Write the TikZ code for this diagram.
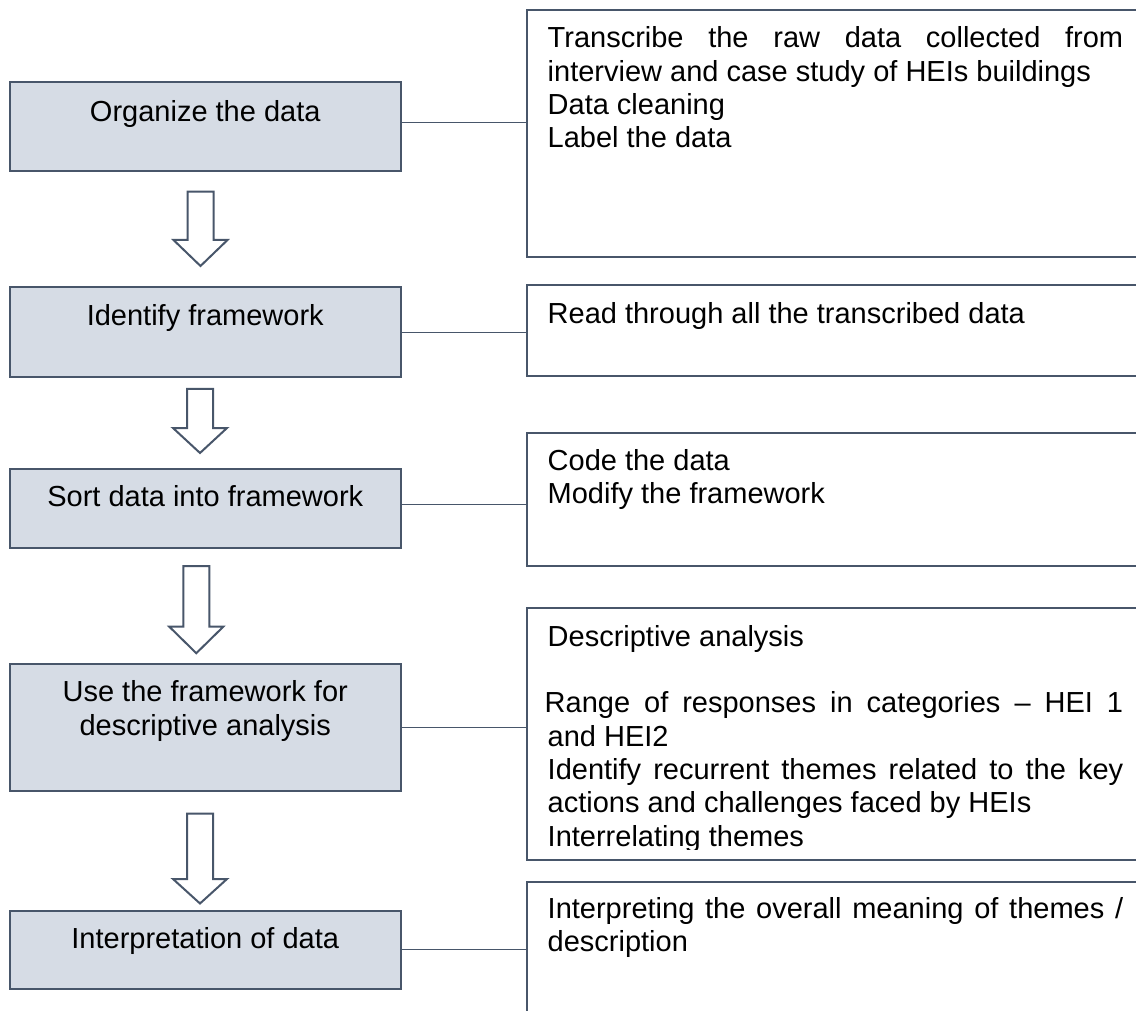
\documentclass[tikz,border=0pt]{standalone}
\usepackage{fontspec}
\setmainfont{Liberation Sans}
\definecolor{edge}{RGB}{72,86,106}
\definecolor{boxfill}{RGB}{214,220,229}
\tolerance=10000
\hyphenpenalty=10000
\exhyphenpenalty=10000
% strut that fixes the first baseline 26pt below the top of a text node
\newcommand\fst{\rule{0pt}{26pt}}
% hollow block arrow: centre x, shaft top, head base, tip
\newcommand\flowarrow[4]{%
  \draw[blockarrow] ({#1-13},#2) -- ({#1+13},#2) -- ({#1+13},#3) -- ({#1+27},#3)
    -- (#1,#4) -- ({#1-27},#3) -- ({#1-13},#3) -- cycle;}
\begin{document}
\begin{tikzpicture}[x=1pt,y=-1pt,
  stagebox/.style={draw=edge, line width=2pt, fill=boxfill, outer sep=0pt,
    inner sep=0pt, minimum width=390.5pt},
  notebox/.style={draw=edge, line width=2pt, fill=white, outer sep=0pt,
    inner sep=0pt, minimum width=623pt},
  stagetext/.style={anchor=north, inner sep=0pt, align=center,
    font=\fontsize{29}{33.3}\selectfont},
  notetext/.style={anchor=north west, inner sep=0pt, text width=575.5pt,
    align=justify, font=\fontsize{29}{33.3}\selectfont},
  link/.style={draw=edge, line width=1.3pt},
  blockarrow/.style={draw=edge, line width=2pt, fill=white, line join=miter}]
\useasboundingbox (0,0) rectangle (1136,1011);
\clip (0,0) rectangle (1136,1011);

% stages
\node[stagebox, minimum height=89pt]   (b1) at (205.25,127)    {};
\node[stagebox, minimum height=89.2pt] (b2) at (205.25,331.9)  {};
\node[stagebox, minimum height=79.3pt] (b3) at (205.25,508.15) {};
\node[stagebox, minimum height=126.5pt](b4) at (205.25,727.25) {};
\node[stagebox, minimum height=78.3pt] (b5) at (205.25,949.65) {};

\node[stagetext] (t1) at (205.25,95.7)  {\fst Organize the data};
\node[stagetext] (t2) at (205.25,299.7) {\fst Identify framework};
\node[stagetext] (t3) at (205.25,480.7) {\fst Sort data into framework};
\node[stagetext] (t4) at (205.25,675.7) {\fst Use the framework for\\descriptive analysis};
\node[stagetext] (t5) at (205.25,922)   {\fst Interpretation of data};

% activity notes
\node[notebox, minimum height=246.7pt] (r1) at (838.5,133.35) {};
\node[notebox, minimum height=91pt]    (r2) at (838.5,330.5)  {};
\node[notebox, minimum height=133.3pt] (r3) at (838.5,499.35) {};
\node[notebox, minimum height=251.7pt] (r4) at (838.5,734.15) {};
\node[notebox, minimum height=158.3pt] (r5) at (838.5,960.85) {};

\node[notetext] (n1) at (547.5,21.7) {\fst Transcribe the raw data collected from
  interview and case study of HEIs buildings\\Data cleaning\\Label the data};
\node[notetext] (n2) at (547.5,297.3) {\fst Read through all the transcribed data};
\node[notetext] (n3) at (547.5,444) {\fst Code the data\\Modify the framework};
\begin{scope}
  \clip (527,608) rectangle (1136,849.5);
  \node[notetext] (n4) at (547.5,620) {\fst Descriptive analysis\\[33.3pt]%
    \hspace*{-3pt}Range of responses in categories -- HEI 1\linebreak and HEI2\\Identify
    recurrent themes related to the key actions and challenges faced by
    HEIs\\Interrelating themes};
\end{scope}
\node[notetext] (n5) at (547.5,892.3) {\fst Interpreting the overall meaning of
  themes / description};

% links from each stage to its note
\draw[link] ([yshift=4.3pt]b1.east) -- ([yshift=4.3pt]b1.east -| r1.west);
\draw[link] ([yshift=-0.8pt]b2.east) -- ([yshift=-0.8pt]b2.east -| r2.west);
\draw[link] ([yshift=3.85pt]b3.east) -- ([yshift=3.85pt]b3.east -| r3.west);
\draw[link] (b4.east) -- (b4.east -| r4.west);
\draw[link] (b5.east) -- (b5.east -| r5.west);

% flow arrows between stages
\flowarrow{200.5}{191.7}{240}{266}
\flowarrow{200}{388.8}{428}{453}
\flowarrow{196.3}{566}{626.7}{653.2}
\flowarrow{200}{813.5}{879}{903.5}
\end{tikzpicture}
\end{document}
